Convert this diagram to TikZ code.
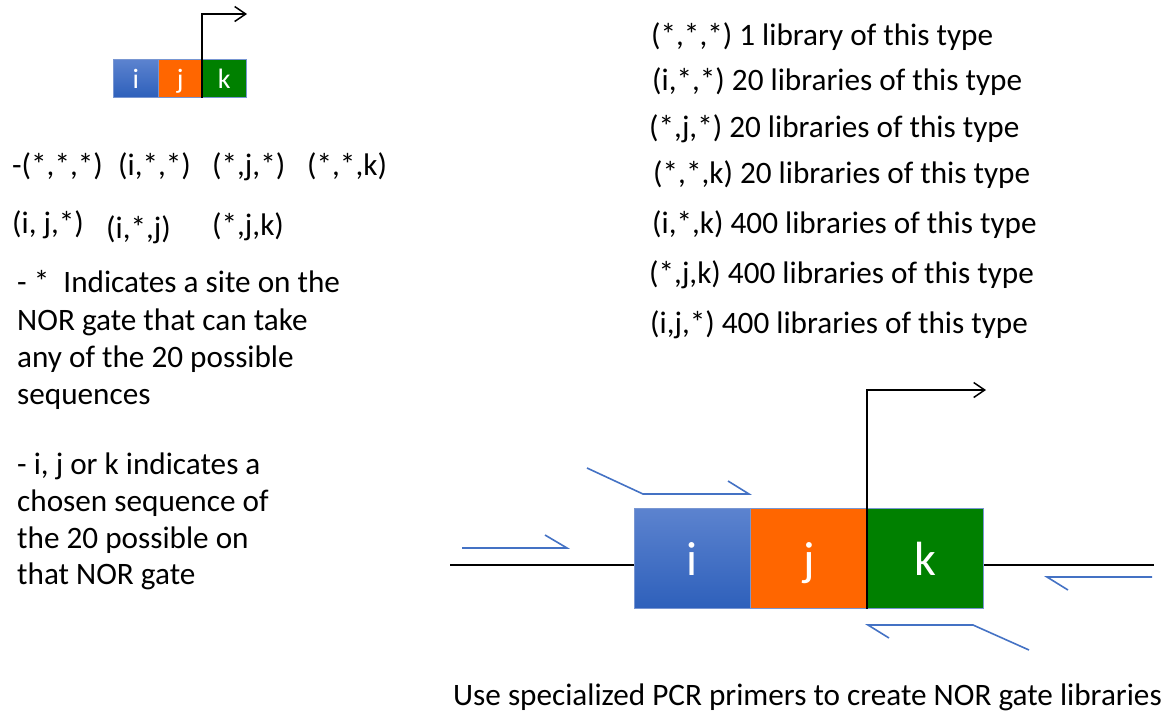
\documentclass[tikz,border=0pt]{standalone}
\usepackage{fontspec}
\setmainfont{Carlito}
\usetikzlibrary{arrows.meta}
\definecolor{iblueT}{RGB}{92,131,207}
\definecolor{iblueB}{RGB}{46,96,187}
\definecolor{jorange}{RGB}{255,102,0}
\definecolor{kgreen}{RGB}{0,128,0}
\definecolor{primer}{RGB}{68,114,196}
\definecolor{edgec}{RGB}{120,150,210}
\begin{document}
\begin{tikzpicture}[x=1pt,y=-1pt,
  txt/.style={anchor=base west, inner sep=0pt, font=\fontsize{31.2}{37}\selectfont},
  bigseg/.style={draw=edgec, line width=0.8pt, minimum height=100pt, inner sep=0pt,
    text=white, font=\fontsize{48}{48}\selectfont, text height=35pt, text depth=0pt, anchor=north west},
  smallseg/.style={draw=edgec, line width=0.6pt, minimum height=38pt, inner sep=0pt,
    text=white, font=\fontsize{28}{28}\selectfont, text height=20pt, text depth=0pt, anchor=north west},
  iseg/.style={top color=iblueT, bottom color=iblueB},
  jseg/.style={fill=jorange},
  kseg/.style={fill=kgreen},
  promoter/.style={draw=black, line width=1.5pt, -{Straight Barb[length=11pt,width=15pt,line width=1.5pt]}},
  dna/.style={draw=black, line width=2pt},
  primerline/.style={draw=primer, line width=1.6pt}
]
\useasboundingbox (0,0) rectangle (1172,713);

% small gate
\node[smallseg, iseg, minimum width=45pt] (si) at (113,59) {i};
\node[smallseg, jseg, minimum width=44pt] (sj) at (158,59) {j};
\node[smallseg, kseg, minimum width=44pt] (sk) at (202,59) {k};
\coordinate (promB) at (247,14);
\draw[promoter] (sk.south west) |- (promB);

% left rows
\node[txt] (r1a) at (12,175) {-(*,*,*)};
\node[txt] (r1b) at (118,175) {(i,*,*)};
\node[txt] (r1c) at (212,175) {(*,j,*)};
\node[txt] (r1d) at (307,175) {(*,*,k)};
\node[txt] (r2a) at (12,233) {(i, j,*)};
\node[txt] (r2b) at (106,238) {(i,*,j)};
\node[txt] (r2c) at (212,235) {(*,j,k)};

% left paragraphs
\node[txt] (p1) at (17,292) {- *\ \ Indicates a site on the};
\node[txt] (p2) at (17,330) {NOR gate that can take};
\node[txt] (p3) at (17,367) {any of the 20 possible};
\node[txt] (p4) at (17,404) {sequences};
\node[txt] (q1) at (17,474) {- i, j or k indicates a};
\node[txt] (q2) at (17,511) {chosen sequence of};
\node[txt] (q3) at (17,548) {the 20 possible on};
\node[txt] (q4) at (17,584) {that NOR gate};

% right list
\node[txt] (l1) at (651,45) {(*,*,*) 1 library of this type};
\node[txt] (l2) at (652,90) {(i,*,*) 20 libraries of this type};
\node[txt] (l3) at (649,137) {(*,j,*) 20 libraries of this type};
\node[txt] (l4) at (653,183) {(*,*,k) 20 libraries of this type};
\node[txt] (l5) at (652,233) {(i,*,k) 400 libraries of this type};
\node[txt] (l6) at (649,283) {(*,j,k) 400 libraries of this type};
\node[txt] (l7) at (650,333) {(i,j,*) 400 libraries of this type};

% big gate
\coordinate (dnaL) at (450,565);
\coordinate (dnaR) at (1154,565);
\draw[dna] (dnaL) -- (634,565) coordinate (dnaLi);
\draw[dna] (983,565) -- (dnaR);
\node[bigseg, iseg, minimum width=116pt] (bi) at (634,508) {i};
\node[bigseg, jseg, minimum width=117pt] (bj) at (750,508) {j};
\node[bigseg, kseg, minimum width=116pt] (bk) at (867,508) {k};
\coordinate (promA) at (986,390);
\draw[promoter] (bk.south west) |- (promA);

% primers
\draw[primerline] (462,548) -- (567,548) -- (545,535);
\draw[primerline] (587,468) -- (643,494) -- (749,494) -- (728,481);
\draw[primerline] (1152,577) -- (1047,577) -- (1068,590);
\draw[primerline] (1029,650) -- (973,625) -- (868,625) -- (889,638);

% caption
\node[txt] (cap) at (453,705) {Use specialized PCR primers to create NOR gate libraries};
\end{tikzpicture}
\end{document}
